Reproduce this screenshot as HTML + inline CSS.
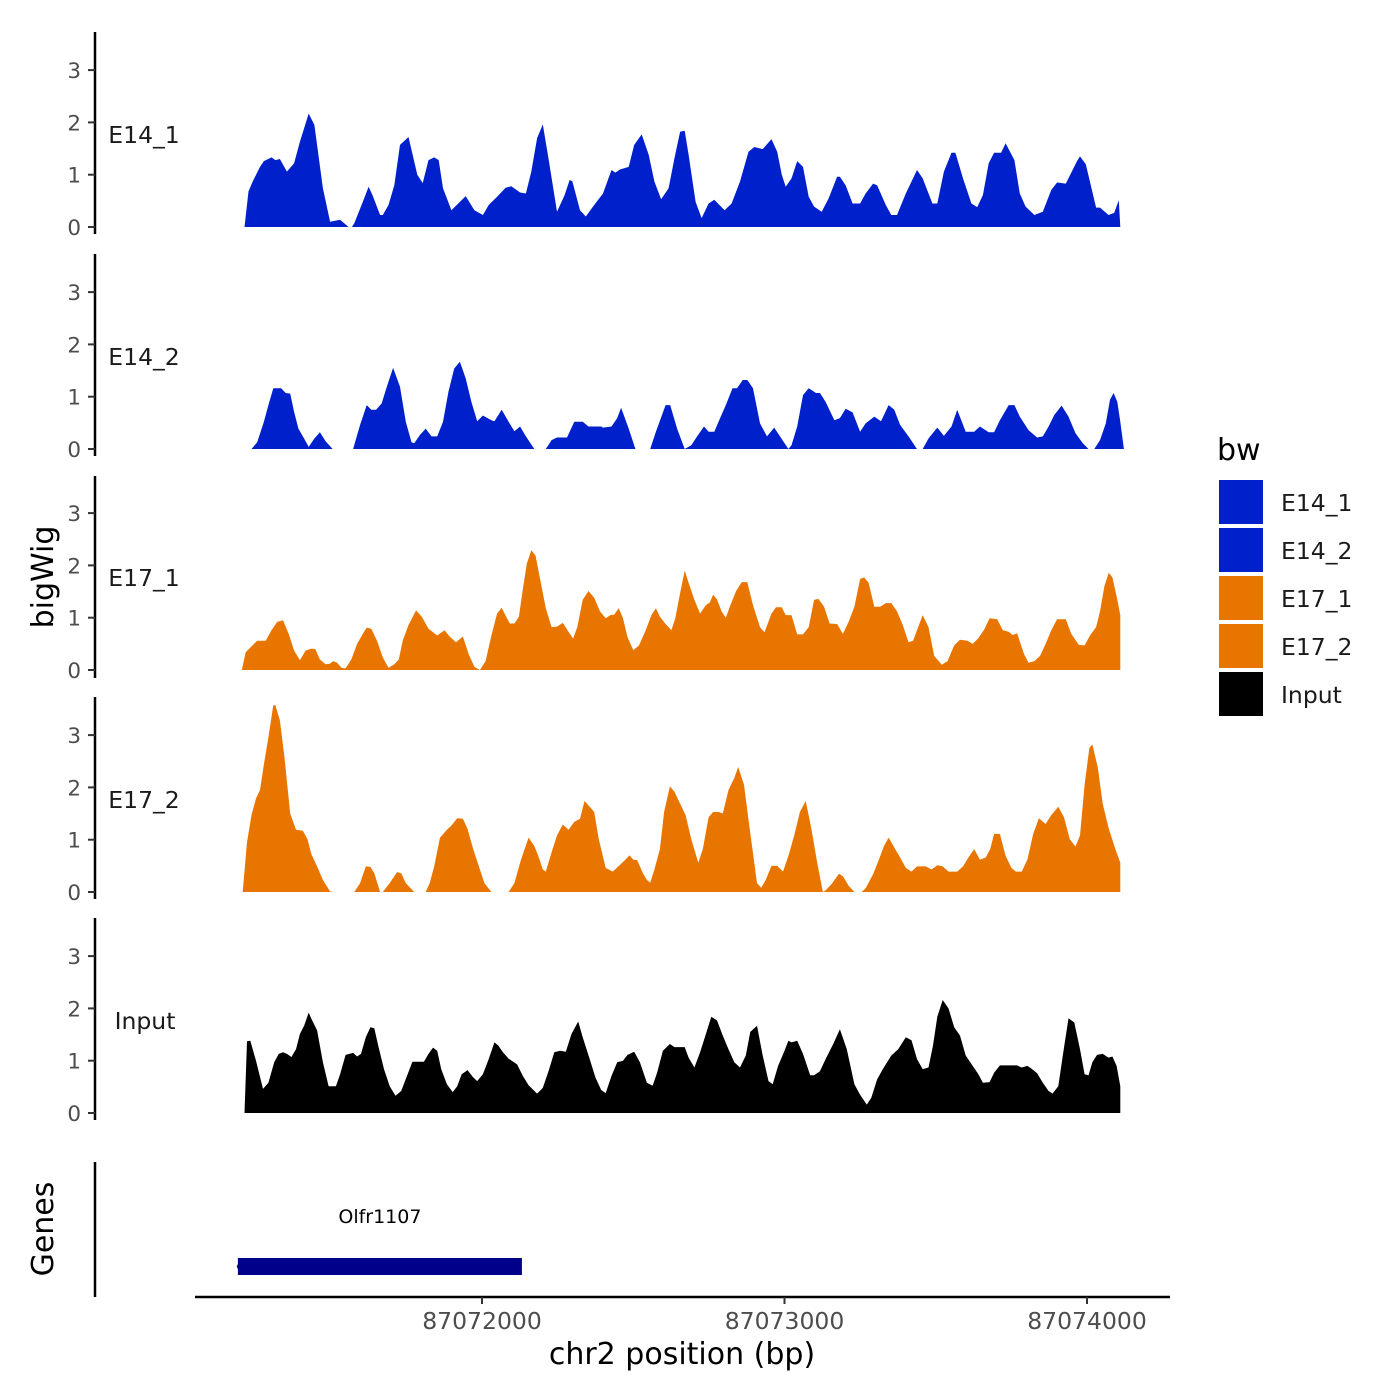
<!DOCTYPE html>
<html><head><meta charset="utf-8"><style>
html,body{margin:0;padding:0;background:#fff;}
svg{display:block;font-family:"DejaVu Sans","Liberation Sans",sans-serif;}
</style></head><body>
<svg id="chart" width="1400" height="1400" viewBox="0 0 1400 1400"></svg>
<script>
// ---- data (positions are bp offsets from chr2:87071000) ----
const regionStart = 87071000;
const trackNames = ["E14_1","E14_2","E17_1","E17_2","Input"];
const trackColors = ["#0020cc","#0020cc","#e87500","#e87500","#000000"];
const yTicks = [0,1,2,3];
const xTicks = [87072000,87073000,87074000];
const xTickLabels = ["87072000","87073000","87074000"];
const geneName = "Olfr1107";
const geneStart = 87071193;
const geneEnd = 87072132;

const pos1 = [215,228,242,266,279,304,317,332,355,379,398,427,446,474,498,531,559,570,578,606,625,638,663,672,691,710,729,757,786,804,823,842,857,871,899,927,946,975,1003,1022,1050,1078,1097,1126,1145,1163,1182,1201,1220,1248,1273,1290,1299,1324,1343,1371,1400,1428,1441,1456,1485,1503,1528,1551,1570,1592,1617,1636,1655,1670,1683,1706,1726,1749,1768,1802,1825,1853,1881,1900,1928,1957,1976,1991,2004,2023,2042,2061,2080,2098,2123,2146,2174,2183,2202,2225,2250,2268,2293,2306,2335,2353,2372,2401,2438,2457,2489,2505,2527,2552,2565,2590,2618,2637,2656,2675,2693,2716,2731,2760,2778,2797,2826,2854,2882,2901,2930,2967,2977,2996,3030,3043,3071,3090,3105,3110];
const val1 = [0,.68,.87,1.15,1.26,1.33,1.28,1.30,1.06,1.22,1.63,2.17,1.95,.74,.10,.14,0,0,.07,.48,.77,.61,.23,.23,.42,.80,1.57,1.72,1.00,.84,1.28,1.33,1.28,.74,.32,.48,.59,.32,.23,.42,.58,.75,.78,.66,.64,1.06,1.70,1.96,1.31,.29,.61,.90,.87,.32,.20,.42,.64,1.09,1.04,1.10,1.15,1.57,1.77,1.38,.87,.53,.74,1.31,1.82,1.84,1.38,.48,.17,.45,.52,.32,.45,.87,1.44,1.53,1.49,1.68,1.44,1.00,.77,.93,1.26,1.15,.58,.39,.29,.55,.96,.96,.80,.45,.45,.64,.83,.80,.42,.23,.23,.64,1.09,.93,.45,.45,1.06,1.42,1.42,.93,.45,.38,.61,1.22,1.42,1.42,1.60,1.28,.64,.39,.23,.29,.71,.85,.83,1.26,1.35,1.20,.37,.37,.23,.27,.51,0];

const pos2 = [238,257,279,294,310,336,351,366,379,393,412,427,446,464,483,506,574,597,619,634,650,668,687,706,729,748,767,776,795,814,833,852,871,889,908,927,946,965,984,1003,1031,1041,1065,1088,1107,1126,1145,1173,1211,1230,1248,1281,1305,1333,1352,1394,1400,1428,1447,1460,1485,1507,1556,1575,1607,1622,1645,1670,1692,1711,1734,1749,1768,1787,1806,1828,1843,1862,1877,1896,1919,1942,1966,1985,2013,2023,2042,2061,2080,2104,2117,2136,2165,2183,2202,2225,2250,2268,2297,2319,2344,2363,2382,2410,2438,2457,2476,2505,2527,2552,2571,2599,2627,2646,2675,2693,2712,2741,2760,2778,2807,2835,2854,2873,2892,2916,2939,2962,2986,3005,3024,3043,3062,3076,3088,3100,3110,3122];
const val2 = [0,.13,.52,.84,1.16,1.16,1.07,1.06,.71,.39,.20,.04,.20,.32,.15,0,0,.46,.84,.75,.75,.87,1.22,1.55,1.19,.52,.13,.11,.27,.39,.24,.24,.52,1.09,1.54,1.67,1.35,.90,.53,.64,.55,.53,.75,.52,.34,.43,.24,0,0,.17,.22,.22,.52,.52,.43,.43,.41,.43,.59,.79,.39,0,0,.33,.84,.84,.39,0,.07,.24,.43,.33,.33,.59,.84,1.16,1.16,1.32,1.32,1.16,.49,.24,.41,.24,0,.07,.43,1.03,1.16,1.07,1.07,.90,.55,.59,.77,.70,.33,.49,.62,.53,.84,.75,.46,.24,0,0,.20,.41,.25,.43,.75,.33,.33,.43,.32,.32,.55,.84,.84,.62,.36,.22,.24,.43,.65,.83,.62,.30,.11,0,0,.17,.49,.94,1.07,.90,.52,0];

const pos3 = [206,219,257,285,304,323,342,361,379,398,417,436,449,464,483,497,508,521,536,549,568,587,606,619,634,653,672,691,710,725,738,757,782,801,823,852,876,895,914,937,956,975,993,1012,1031,1050,1065,1078,1092,1107,1122,1135,1148,1163,1177,1192,1211,1230,1248,1267,1286,1301,1315,1333,1352,1371,1390,1409,1424,1437,1452,1466,1481,1500,1519,1541,1560,1575,1588,1607,1626,1639,1655,1670,1683,1702,1721,1740,1753,1764,1777,1792,1806,1821,1840,1859,1877,1896,1919,1934,1957,1972,1991,2004,2023,2042,2061,2080,2098,2112,2131,2149,2174,2193,2212,2231,2250,2263,2278,2297,2316,2335,2353,2372,2391,2410,2425,2438,2457,2476,2495,2520,2539,2561,2580,2605,2622,2641,2660,2678,2703,2722,2741,2754,2769,2792,2807,2826,2845,2863,2882,2901,2930,2948,2973,2992,3011,3030,3043,3058,3072,3084,3098,3110];
const val3 = [0,.34,.56,.56,.76,.92,.95,.69,.37,.19,.37,.41,.40,.20,.11,.12,.17,.14,.04,.03,.20,.50,.69,.81,.79,.56,.24,.04,.11,.20,.56,.86,1.14,1.02,.79,.66,.76,.63,.53,.64,.30,.06,0,.17,.66,1.08,1.19,1.04,.89,.89,1.02,1.54,2.03,2.29,2.19,1.74,1.18,.82,.83,.90,.73,.60,.82,1.34,1.51,1.38,1.12,.99,1.05,1.06,1.18,.99,.63,.38,.47,.76,1.05,1.18,1.02,.88,.76,.99,1.47,1.90,1.67,1.34,1.08,1.24,1.29,1.44,1.35,1.12,1.00,1.24,1.51,1.68,1.68,1.24,.82,.72,1.08,1.20,1.20,1.05,1.05,.68,.68,.82,1.34,1.36,1.21,.89,.88,.69,.92,1.21,1.74,1.77,1.67,1.21,1.21,1.28,1.28,1.12,.86,.53,.56,.76,1.05,.82,.27,.10,.17,.47,.58,.56,.50,.61,.77,.99,.97,.76,.73,.67,.70,.30,.14,.17,.27,.50,.76,.97,.97,.69,.48,.47,.67,.82,1.12,1.61,1.86,1.77,1.41,1.05];

const pos4 = [209,223,238,253,266,279,294,310,317,332,347,366,385,408,423,436,455,474,498,512,578,597,616,631,644,663,672,695,719,733,748,776,814,827,842,861,884,899,918,937,952,971,993,1008,1031,1088,1107,1129,1154,1173,1186,1201,1211,1230,1248,1267,1286,1305,1324,1339,1356,1371,1386,1409,1432,1451,1469,1488,1500,1513,1532,1545,1556,1570,1588,1602,1621,1636,1655,1673,1692,1715,1730,1749,1764,1783,1796,1815,1834,1847,1866,1885,1909,1923,1938,1957,1976,1995,2013,2032,2051,2070,2089,2108,2127,2136,2155,2180,2193,2212,2231,2255,2268,2293,2312,2329,2344,2363,2382,2401,2420,2438,2467,2486,2505,2523,2542,2571,2590,2608,2627,2646,2665,2680,2693,2712,2731,2750,2765,2784,2803,2822,2841,2863,2882,2905,2924,2943,2962,2977,2992,3008,3018,3036,3052,3072,3094,3110];
const val4 = [0,.95,1.47,1.79,1.95,2.44,2.96,3.57,3.57,3.28,2.57,1.50,1.19,1.17,1.01,.72,.49,.23,.01,0,0,.17,.49,.48,.36,0,0,.17,.38,.36,.17,0,0,.17,.49,1.04,1.19,1.27,1.41,1.40,1.21,.82,.43,.17,0,0,.17,.62,1.04,.88,.69,.43,.39,.76,1.08,1.29,1.19,1.34,1.40,1.74,1.63,1.53,1.01,.46,.39,.49,.59,.70,.62,.61,.36,.23,.18,.43,.82,1.53,2.02,1.92,1.69,1.47,1.01,.56,.82,1.43,1.53,1.53,1.50,1.95,2.18,2.39,2.05,1.21,.17,.08,.23,.50,.50,.39,.69,1.08,1.53,1.74,1.21,.56,0,.03,.15,.35,.30,.12,0,0,.07,.34,.62,.88,1.04,.85,.66,.46,.39,.49,.49,.43,.51,.49,.39,.39,.49,.66,.82,.62,.66,.82,1.11,1.11,.69,.46,.39,.39,.62,1.11,1.41,1.30,1.47,1.63,1.43,1.01,.87,1.08,2.05,2.76,2.82,2.37,1.69,1.21,.82,.56];

const pos5 = [215,223,234,253,276,294,313,328,342,355,370,385,398,412,427,436,455,474,493,517,531,549,574,587,600,616,631,644,657,676,695,714,733,752,770,808,823,838,852,865,884,903,918,933,952,971,984,1003,1022,1041,1054,1069,1088,1116,1135,1154,1182,1201,1220,1239,1258,1277,1296,1318,1333,1356,1375,1394,1409,1428,1447,1466,1481,1503,1522,1545,1564,1579,1598,1621,1636,1655,1670,1683,1702,1721,1740,1758,1777,1796,1815,1834,1853,1872,1887,1909,1928,1947,1961,1979,1998,2013,2023,2042,2061,2085,2098,2117,2136,2161,2183,2206,2231,2250,2272,2287,2306,2325,2353,2376,2401,2420,2438,2457,2476,2491,2505,2523,2542,2561,2580,2599,2622,2641,2656,2678,2693,2712,2741,2769,2784,2803,2816,2835,2854,2873,2886,2905,2920,2939,2958,2977,2992,3005,3018,3033,3052,3071,3084,3098,3110];
const val5 = [0,1.37,1.38,1.00,.46,.58,.97,1.13,1.16,1.13,1.07,1.22,1.51,1.67,1.92,1.80,1.58,.97,.51,.51,.74,1.11,1.15,1.08,1.13,1.45,1.64,1.62,1.29,.84,.51,.33,.42,.71,.98,.98,1.13,1.25,1.19,.84,.55,.40,.51,.74,.82,.68,.61,.74,1.03,1.35,1.29,1.16,1.04,.93,.71,.53,.37,.48,.80,1.16,1.19,1.17,1.51,1.75,1.45,1.03,.68,.44,.38,.71,.97,1.00,1.11,1.17,.97,.58,.52,.77,1.19,1.32,1.26,1.26,1.26,1.06,.87,1.16,1.51,1.84,1.77,1.48,1.22,.97,.87,1.10,1.55,1.67,1.10,.61,.55,.90,1.16,1.38,1.35,1.38,1.13,.72,.72,.80,1.03,1.32,1.60,1.22,.55,.35,.16,.29,.64,.84,1.10,1.22,1.45,1.39,1.03,.84,.87,1.29,1.84,2.16,2.00,1.64,1.48,1.10,.90,.74,.58,.59,.77,.91,.91,.91,.87,.90,.85,.76,.58,.42,.37,.51,1.10,1.81,1.73,1.22,.74,.72,.97,1.11,1.13,1.06,1.08,.90,.51];

const allPos = [pos1,pos2,pos3,pos4,pos5];
const allVal = [val1,val2,val3,val4,val5];

// ---- layout ----
const svg = document.getElementById('chart');
const NS = 'http://www.w3.org/2000/svg';
function mk(tag, attrs, parent){const e=document.createElementNS(NS,tag);for(const k in attrs)e.setAttribute(k,attrs[k]);(parent||svg).appendChild(e);return e;}
const baselines = [227,449,670,892,1113];
const panelTops = [32,254,476,697,918];
const unitPx = 52.3;
function xScale(bp){return 482 + (bp - 87072000)*0.3025;}
function yScale(i,v){return baselines[i] - v*unitPx;}

for(let i=0;i<5;i++){
  const g = mk('g',{});
  
  
  const p = allPos[i], v = allVal[i];
  let d = 'M' + xScale(regionStart+p[0]).toFixed(1) + ',' + yScale(i,0);
  for(let j=0;j<p.length;j++) d += 'L' + xScale(regionStart+p[j]).toFixed(1) + ',' + yScale(i,v[j]).toFixed(1);
  d += 'L' + xScale(regionStart+p[p.length-1]).toFixed(1) + ',' + yScale(i,0) + 'Z';
  const area = mk('path',{d:d,fill:trackColors[i]},g);
  
  
  const ax = mk('line',{x1:95,x2:95,y1:panelTops[i],y2:panelTops[i]+202,stroke:'#000','stroke-width':2.5},g);
  
  
  for(const t of yTicks){
    const y = yScale(i,t);
    const tk = mk('line',{x1:88,x2:95,y1:y,y2:y,stroke:'#333','stroke-width':2},g);
    
    
    const tl = mk('text',{x:81,y:y+8,'text-anchor':'end','font-size':21.5,fill:'#4d4d4d'},g);
    tl.textContent = t;
    
    
  }
  const lab = mk('text',{x:i===4?145:144,y:baselines[i]-84,'text-anchor':'middle','font-size':23.5,fill:'#1a1a1a'},g);
  lab.textContent = trackNames[i];
  
  
}

const yt = mk('text',{x:0,y:0,transform:'translate(53,577) rotate(-90)','text-anchor':'middle','font-size':30,fill:'#000'});
yt.textContent = 'bigWig';



const gt = mk('text',{x:0,y:0,transform:'translate(53,1229) rotate(-90)','text-anchor':'middle','font-size':30,fill:'#000'});
gt.textContent = 'Genes';


const ga = mk('line',{x1:95,x2:95,y1:1162,y2:1297,stroke:'#000','stroke-width':2.5});


const gx1 = xScale(geneStart), gx2 = xScale(geneEnd);
const gb = mk('rect',{x:gx1,y:1258,width:gx2-gx1,height:17,fill:'#00008b'});


const gc = mk('circle',{cx:gx1+2,cy:1266.5,r:3,fill:'#00008b'});


const gl = mk('text',{x:(gx1+gx2)/2,y:1223,'text-anchor':'middle','font-size':19,fill:'#000'});
gl.textContent = geneName;



const xa = mk('line',{x1:195,x2:1170,y1:1297,y2:1297,stroke:'#000','stroke-width':2.5});


xTicks.forEach((t,k)=>{
  const x = xScale(t);
  const tk = mk('line',{x1:x,x2:x,y1:1297,y2:1304,stroke:'#333','stroke-width':2});
  
  
  const tl = mk('text',{x:x,y:1329,'text-anchor':'middle','font-size':23.5,fill:'#4d4d4d'});
  tl.textContent = xTickLabels[k];
  
  
});
const xt = mk('text',{x:682,y:1364,'text-anchor':'middle','font-size':30,fill:'#000'});
xt.textContent = 'chr2 position (bp)';



const lg = mk('g',{});


const ltitle = mk('text',{x:1217,y:460,'font-size':30,fill:'#000'},lg);
ltitle.textContent = 'bw';


trackNames.forEach((n,k)=>{
  const y = 480 + k*48;
  const r = mk('rect',{x:1219,y:y,width:44,height:44,fill:trackColors[k]},lg);
  
  
  const t = mk('text',{x:1281,y:y+31,'font-size':23.5,fill:'#1a1a1a'},lg);
  t.textContent = n;
  
  
});
</script>
</body></html>
